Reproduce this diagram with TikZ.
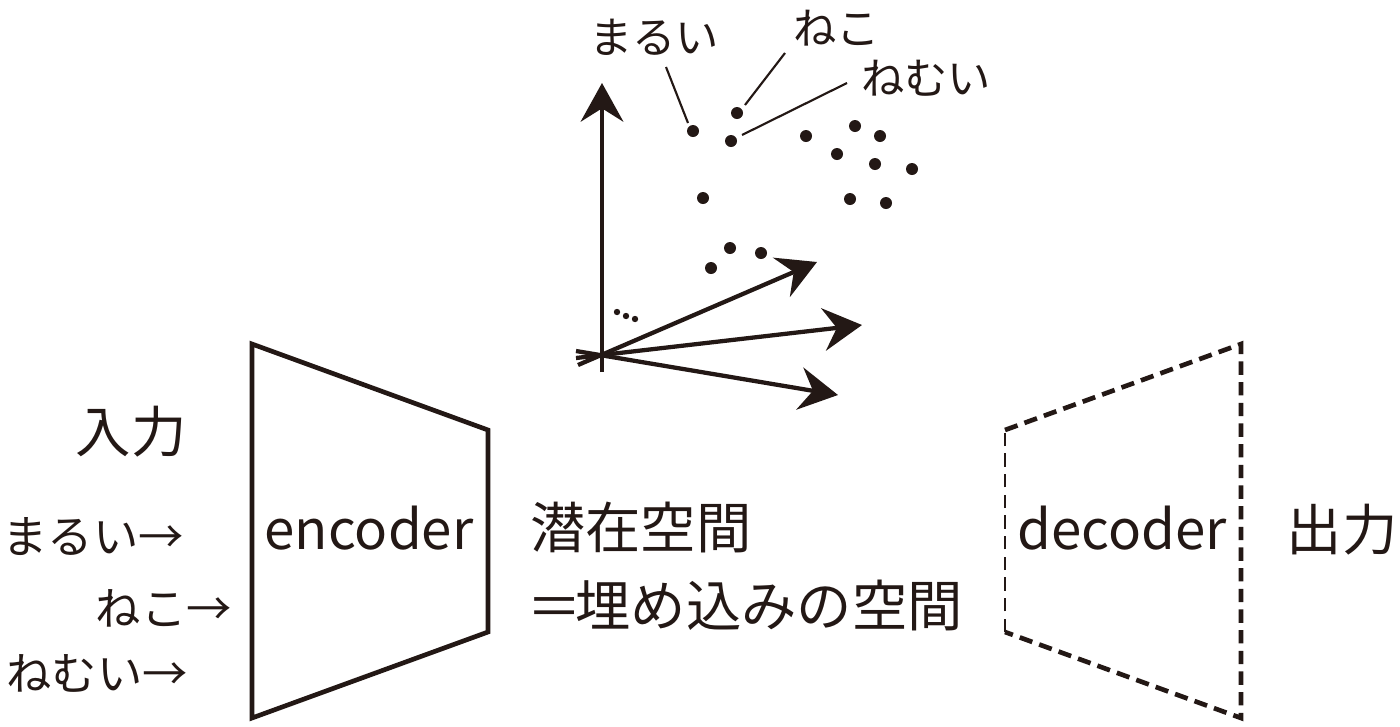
\documentclass[tikz,border=0pt]{standalone}
\usepackage{fontspec}
\usepackage{graphicx}
\setmainfont{Noto Sans CJK JP}
\usetikzlibrary{arrows.meta}
\definecolor{ink}{HTML}{231815}
\begin{document}
\begin{tikzpicture}[x=0.75pt,y=-0.75pt,
  every node/.style={inner sep=0pt, text=ink},
  boxline/.style={draw=ink, line width=3.5pt, line join=miter},
  dashline/.style={draw=ink, line width=3.5pt, dash pattern=on 10pt off 5.5pt},
  thindash/.style={draw=ink, line width=1.6pt, dash pattern=on 10pt off 5.5pt},
  vec/.style={draw=ink, line width=3.2pt, -{Stealth[length=29pt,width=32pt,inset=10pt]}},
  dot/.style={circle, fill=ink, minimum size=9pt},
  smalldot/.style={circle, fill=ink, minimum size=4.8pt},
  leader/.style={draw=ink, line width=1.6pt},
  bigfont/.style={font=\fontsize{41pt}{48pt}\selectfont},
  jpbig/.style={font=\fontsize{41.5pt}{48pt}\selectfont},
  jpmid/.style={font=\fontsize{34pt}{38pt}\selectfont},
  jpsmall/.style={font=\fontsize{32.5pt}{36pt}\selectfont}]
\useasboundingbox (0,0) rectangle (1400,726);

% encoder
\draw[boxline] (252,344) -- (488,430) -- (488,632) -- (252,718) -- cycle;
\node[bigfont] (enc) at (369,528) {encoder};

% decoder
\coordinate (dtl) at (1005,430);
\coordinate (dtr) at (1241,344);
\coordinate (dbr) at (1241,718);
\coordinate (dbl) at (1005,632);
\draw[dashline] (dtl) -- (dtr) -- (dbr) -- (dbl);
\draw[thindash] (dbl) -- (dtl);
\node[bigfont] (dec) at (1122,528) {decoder};

% labels
\node[jpbig] (in) at (131,432) {入力};
\node[jpbig] (out) at (1342,530) {出力};
\node[jpbig, anchor=west] (latent) at (530,527) {潜在空間};
\node[jpbig, anchor=west] (embed) at (531,605) {\scalebox{1.5}[1]{=}\kern -1.5pt 埋め込みの空間};

\node[jpmid, anchor=east] (w1) at (184,537) {まるい→};
\node[jpmid, anchor=east] (w2) at (232,608) {ねこ→};
\node[jpmid, anchor=east] (w3) at (188,673) {ねむい→};

% axes
\coordinate (o) at (602,355);
\coordinate (ybot) at (602,372);
\coordinate (ytop) at (602,83);
\draw[vec] (ybot) -- (ytop);
\coordinate (s1) at (578,365);
\coordinate (t1) at (817,262);
\coordinate (s2) at (576,358);
\coordinate (t2) at (862,325);
\coordinate (s3) at (576,351);
\coordinate (t3) at (838,395);
\draw[vec] (s1) -- (t1);
\draw[vec] (s2) -- (t2);
\draw[vec] (s3) -- (t3);
\node[smalldot] (e1) at (617,312) {};
\node[smalldot] (e2) at (626,316) {};
\node[smalldot] (e3) at (635,319) {};

% scatter
\node[dot] (pm) at (693,131) {};
\node[dot] (pn) at (737,113) {};
\node[dot] (pw) at (731,141) {};
\node[dot] (p4) at (806,136) {};
\node[dot] (p5) at (855,126) {};
\node[dot] (p6) at (880,136) {};
\node[dot] (p7) at (837,154) {};
\node[dot] (p8) at (875,164) {};
\node[dot] (p9) at (912,169) {};
\node[dot] (p10) at (703,198) {};
\node[dot] (p11) at (850,199) {};
\node[dot] (p12) at (886,203) {};
\node[dot] (p13) at (730,248) {};
\node[dot] (p14) at (761,253) {};
\node[dot] (p15) at (711,268) {};

% top labels and leaders
\node[jpsmall, anchor=west] (lm) at (589,37) {まるい};
\node[jpsmall, anchor=west] (ln) at (793,28) {ねこ};
\node[jpsmall, anchor=west] (lw) at (861,78) {ねむい};
\coordinate (am) at (666,67);
\coordinate (bm) at (688,123);
\coordinate (an) at (785,53);
\coordinate (bn) at (745,105);
\coordinate (aw) at (847,83);
\coordinate (bw) at (742,135);
\draw[leader] (am) -- (bm);
\draw[leader] (an) -- (bn);
\draw[leader] (aw) -- (bw);
\end{tikzpicture}
\end{document}
